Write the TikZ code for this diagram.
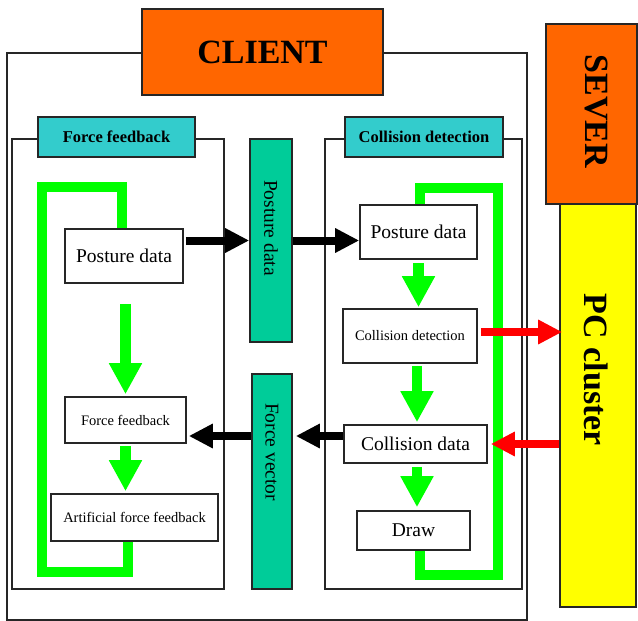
\documentclass[tikz,border=0pt]{standalone}
\usepackage{fontspec}
\setmainfont{Liberation Serif}
\usetikzlibrary{arrows.meta}
\definecolor{tagorange}{HTML}{FF6600}
\definecolor{tagcyan}{HTML}{33CCCC}
\definecolor{barteal}{HTML}{00CC99}
\definecolor{pcyellow}{HTML}{FFFF00}
\definecolor{flowgreen}{HTML}{00FF00}
\definecolor{netred}{HTML}{FF0000}
\newcommand{\fs}[1]{\fontsize{#1}{#1}\selectfont}
\tikzset{
  frame/.style={draw=black!85, line width=1.3pt},
  box/.style={draw=black!85, line width=1.6pt, fill=white, inner sep=0pt, align=center},
  tagbox/.style={draw=black!85, line width=1.6pt, fill=tagcyan, inner sep=0pt, font=\fs{16.5}\bfseries},
  bigtag/.style={draw=black!85, line width=1.6pt, fill=tagorange, inner sep=0pt},
  bar/.style={draw=black!85, line width=1.6pt, fill=barteal, inner sep=0pt},
  greenline/.style={draw=flowgreen, line width=10pt, line join=miter},
  greenarrow/.style={draw=flowgreen, fill=flowgreen, line width=10.5pt, -{Triangle[width=31pt,length=31pt]}},
  blackarrow/.style={draw=black, fill=black, line width=8pt, -{Triangle[width=23pt,length=24pt]}},
  redarrow/.style={draw=netred, fill=netred, line width=8pt, -{Triangle[width=23pt,length=24pt]}},
}
\begin{document}
\begin{tikzpicture}[x=1pt,y=-1pt]
\useasboundingbox (0,0) rectangle (638,621);

% outer frames
\draw[frame] (7,53) rectangle (527,620);
\draw[frame] (12,139) rectangle (224,589);
\draw[frame] (325,139) rectangle (522,589);

% title tags
\node[bigtag, minimum width=241pt, minimum height=86pt, font=\fs{34}\bfseries] (client) at (262.5,52) {CLIENT};
\node[tagbox, minimum width=157pt, minimum height=40pt] (fftag) at (116.5,137) {Force feedback};
\node[tagbox, minimum width=158pt, minimum height=40pt] (cdtag) at (424,137) {Collision detection};

% server side
\node[bigtag, minimum width=91pt, minimum height=180pt] (sever) at (591.5,114) {};
\node[rotate=-90, inner sep=0pt, font=\fs{34}\bfseries] (severtxt) at (596,111.5) {SEVER};
\node[draw=black!85, line width=1.6pt, fill=pcyellow, minimum width=76pt, minimum height=403pt] (pc) at (598,405.5) {};
\node[rotate=-90, inner sep=0pt, font=\fs{34}\bfseries] (pctxt) at (596,370) {PC cluster};

% data bars
\node[bar, minimum width=42pt, minimum height=203pt] (pbar) at (271,240.5) {};
\node[rotate=-90, inner sep=0pt, font=\fs{19.5}] (pbartxt) at (271,228) {Posture data};
\node[bar, minimum width=40pt, minimum height=215pt] (fbar) at (272,481.5) {};
\node[rotate=-90, inner sep=0pt, font=\fs{19.5}] (fbartxt) at (272,452) {Force vector};

% force feedback side
\node[box, minimum width=118pt, minimum height=54pt, font=\fs{19.5}] (lpost) at (124,256) {Posture data};
\node[box, minimum width=121pt, minimum height=46pt, font=\fs{14.5}] (ff) at (125.5,420) {Force feedback};
\node[box, minimum width=167pt, minimum height=47pt, font=\fs{14.5}] (art) at (134.5,517.5) {Artificial force feedback};

% collision detection side
\node[box, minimum width=117pt, minimum height=54pt, font=\fs{19.5}] (rpost) at (418.5,232) {Posture data};
\node[box, minimum width=134pt, minimum height=54pt, font=\fs{14.5}] (cdet) at (410,336) {Collision detection};
\node[box, minimum width=143pt, minimum height=38pt, font=\fs{19.5}] (cdata) at (415.5,444) {Collision data};
\node[box, minimum width=113pt, minimum height=39pt, font=\fs{19.5}] (drawbox) at (413.5,530.5) {Draw};

% loop corners
\coordinate (llbot) at (128,572);
\coordinate (llleft) at (42,572);
\coordinate (lltop) at (122,187);
\coordinate (rrbot) at (420,575);
\coordinate (rrright) at (498,575);
\coordinate (rrtop) at (420,188);
\coordinate (fvy) at (0,436);

% green loops
\draw[greenline] (art.south -| llbot) |- (llleft) |- (lltop) -- (lpost.north -| lltop);
\draw[greenline] (drawbox.south -| rrbot) |- (rrright) |- (rrtop) -- (rpost.north -| rrtop);

% green flow arrows
\draw[greenarrow] ([yshift=-20pt]lpost.south -| ff.north) -- ([yshift=2pt]ff.north);
\draw[greenarrow] ([yshift=-2pt]ff.south) -- ([yshift=2pt]art.north -| ff.south);
\draw[greenarrow] ([yshift=-3pt]rpost.south) -- ([yshift=1pt]cdet.north -| rpost.south);
\draw[greenarrow] ([yshift=-2pt]cdet.south -| 417,0) -- ([yshift=2pt]cdata.north -| 417,0);
\draw[greenarrow] ([yshift=-3pt]cdata.south -| 417,0) -- ([yshift=3pt]drawbox.north -| 417,0);

% black data arrows
\draw[blackarrow] ([xshift=2pt]lpost.east |- pbar.west) -- (pbar.west);
\draw[blackarrow] (pbar.east) -- (rpost.west |- pbar.east);
\draw[blackarrow] (fbar.west |- fvy) -- ([xshift=2pt]ff.east |- fvy);
\draw[blackarrow] (cdata.west |- fvy) -- ([xshift=3pt]fbar.east |- fvy);

% red network arrows
\draw[redarrow] ([xshift=3pt,yshift=4pt]cdet.east) -- ([xshift=3pt,yshift=4pt]cdet.east -| pc.west);
\draw[redarrow] (pc.west |- cdata.east) -- ([xshift=3pt]cdata.east);
\end{tikzpicture}
\end{document}
